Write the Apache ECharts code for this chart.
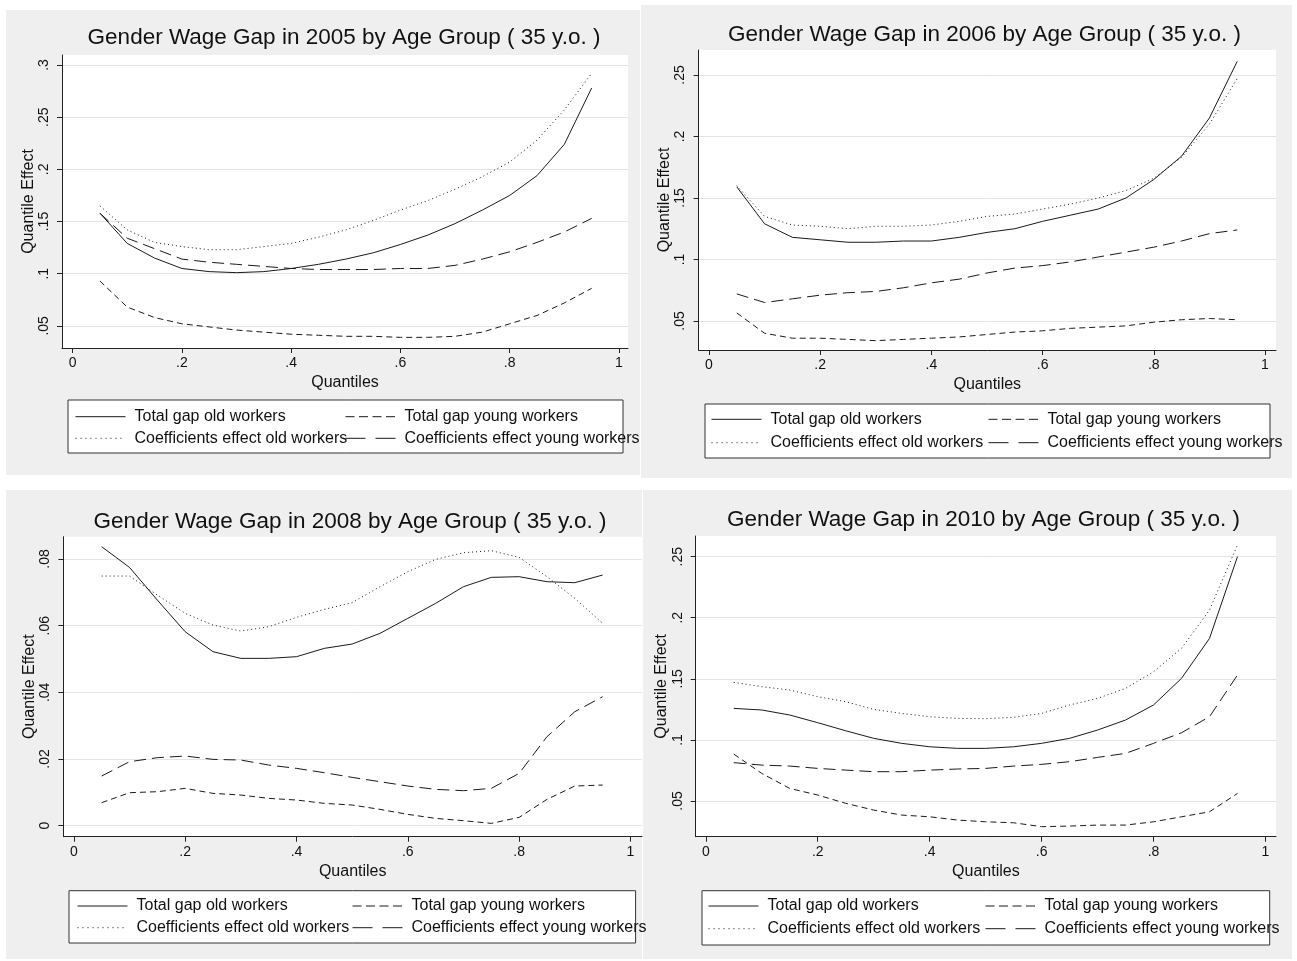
<!DOCTYPE html>
<html><head><meta charset="utf-8">
<script src="https://cdn.jsdelivr.net/npm/echarts/dist/echarts.min.js"></script>
<style>html,body{margin:0;padding:0;background:#fff}#c{width:1297px;height:961px}</style>
</head><body><div id="c"></div>
<script>
// ---------------- DATA ----------------
const quantiles = [0.05,0.10,0.15,0.20,0.25,0.30,0.35,0.40,0.45,0.50,0.55,0.60,0.65,0.70,0.75,0.80,0.85,0.90,0.95];
const seriesNames = ['Total gap old workers','Total gap young workers','Coefficients effect old workers','Coefficients effect young workers'];
const years = ['2005','2006','2008','2010'];
const xTickValues = [0,0.2,0.4,0.6,0.8,1];
const yTicks2005 = [0.05,0.1,0.15,0.2,0.25,0.3];
const yTicks2006 = [0.05,0.1,0.15,0.2,0.25];
const yTicks2008 = [0,0.02,0.04,0.06,0.08];
const yTicks2010 = [0.05,0.1,0.15,0.2,0.25];

const totalOld2005   = [.158,.129,.115,.105,.102,.101,.102,.105,.109,.114,.120,.128,.137,.148,.161,.175,.194,.224,.278];
const totalYoung2005 = [.093,.068,.058,.052,.049,.046,.044,.042,.041,.040,.040,.039,.039,.040,.044,.052,.060,.072,.086];
const coefOld2005    = [.165,.142,.130,.126,.123,.123,.126,.129,.135,.142,.151,.161,.170,.181,.193,.207,.228,.257,.292];
const coefYoung2005  = [.158,.134,.124,.114,.111,.109,.107,.105,.104,.104,.104,.105,.105,.108,.114,.121,.130,.140,.153];

const totalOld2006   = [.159,.129,.118,.116,.114,.114,.115,.115,.118,.122,.125,.131,.136,.141,.150,.165,.184,.215,.261];
const totalYoung2006 = [.0565,.040,.036,.036,.035,.034,.035,.036,.037,.039,.041,.042,.044,.045,.046,.049,.051,.052,.051];
const coefOld2006    = [.160,.135,.128,.127,.125,.127,.127,.128,.131,.135,.137,.141,.145,.150,.156,.166,.183,.210,.247];
const coefYoung2006  = [.072,.065,.068,.071,.073,.074,.077,.081,.084,.089,.093,.095,.098,.102,.106,.110,.115,.121,.124];

const totalOld2008   = [.0837,.0775,.0677,.0582,.0522,.0502,.0502,.0507,.0532,.0545,.0577,.0622,.0667,.0717,.0745,.0747,.0732,.0729,.0752];
const totalYoung2008 = [.0069,.0099,.0102,.0112,.0097,.0092,.0082,.0077,.0067,.0062,.0049,.0034,.0022,.0015,.0007,.0025,.0079,.0119,.0122];
const coefOld2008    = [.0749,.0749,.0692,.0637,.0602,.0584,.0597,.0625,.0649,.0669,.0717,.0762,.0799,.0819,.0825,.0805,.0747,.0682,.0607];
const coefYoung2008  = [.0149,.0192,.0204,.0209,.0199,.0197,.0182,.0172,.0159,.0145,.0132,.0119,.0109,.0105,.0112,.0157,.0267,.0342,.0387];

const totalOld2010   = [.1258,.1245,.1204,.1141,.1075,.1013,.0972,.0944,.0931,.0931,.0944,.0972,.1013,.1081,.1163,.1286,.1504,.1831,.2500];
const totalYoung2010 = [.0884,.0726,.0603,.0549,.0481,.0426,.0385,.0371,.0344,.0330,.0322,.0290,.0295,.0303,.0303,.0330,.0371,.0412,.0562];
const coefOld2010    = [.1471,.1436,.1408,.1354,.1313,.1250,.1217,.1190,.1176,.1174,.1185,.1217,.1286,.1340,.1422,.1558,.1750,.2063,.2596];
const coefYoung2010  = [.0814,.0794,.0786,.0767,.0753,.0740,.0740,.0753,.0762,.0767,.0786,.0800,.0822,.0857,.0890,.0972,.1059,.1190,.1531];

// ---------------- LAYOUT ----------------
const FONT = "'Liberation Sans', Arial, sans-serif";
const INK = '#111';
const panels = [
  { year: years[0], data: [totalOld2005, totalYoung2005, coefOld2005, coefYoung2005], yTicks: yTicks2005,
    grid: {left: 62, top: 55, width: 566, height: 293}, x: [-0.0194, 1.0165], y: [0.0288, 0.3096],
    title: {cx: 344, top: 26}, bg: [6, 10, 634, 465],
    box: [68, 400, 555, 53], cols: [75, 345], rows: [408.7, 430.3] },
  { year: years[1], data: [totalOld2006, totalYoung2006, coefOld2006, coefYoung2006], yTicks: yTicks2006,
    grid: {left: 698.6, top: 50, width: 577.4, height: 300}, x: [-0.0187, 1.0198], y: [0.0264, 0.2703],
    title: {cx: 984.5, top: 23}, bg: [641, 5, 651, 473],
    box: [705, 404, 565, 54], cols: [711, 988], rows: [411.3, 434.7] },
  { year: years[2], data: [totalOld2008, totalYoung2008, coefOld2008, coefYoung2008], yTicks: yTicks2008,
    grid: {left: 63.4, top: 536.7, width: 578.6, height: 300}, x: [-0.0187, 1.0207], y: [-0.0033, 0.0867],
    title: {cx: 350, top: 510}, bg: [6, 490, 636, 469],
    box: [69, 890.7, 566.6, 52.3], cols: [77, 352], rows: [898, 919.7] },
  { year: years[3], data: [totalOld2010, totalYoung2010, coefOld2010, coefYoung2010], yTicks: yTicks2010,
    grid: {left: 695.7, top: 536, width: 580.3, height: 300.7}, x: [-0.018, 1.0188], y: [0.0208, 0.2669],
    title: {cx: 983.5, top: 508}, bg: [643, 490, 649, 469],
    box: [702, 890.7, 567.7, 54.3], cols: [708, 985], rows: [898, 920.7] }
];
const lineTypes = ['solid', [6, 4], [1, 3], [12, 6]];
const legendLineTypes = ['solid', [9, 4.5], [1, 4], [20, 10]];
const legendPos = [[0, 0], [1, 0], [0, 1], [1, 1]]; // [col,row]

function fmt(v) {
  if (Math.abs(v) < 1e-9) return '0';
  if (Math.abs(v - 1) < 1e-9) return '1';
  return String(+v.toFixed(4)).replace(/^0\./, '.');
}

const option = {
  animation: false,
  backgroundColor: '#ffffff',
  title: [], grid: [], xAxis: [], yAxis: [], series: [], legend: [], graphic: []
};

panels.forEach((p, i) => {
  option.graphic.push({ type: 'rect', z: -10, silent: true,
    shape: {x: p.bg[0], y: p.bg[1], width: p.bg[2], height: p.bg[3]},
    style: {fill: '#efefef'} });
  option.graphic.push({ type: 'rect', z: 1, silent: true,
    shape: {x: p.box[0], y: p.box[1], width: p.box[2], height: p.box[3]},
    style: {fill: '#ffffff', stroke: '#333', lineWidth: 1} });
  option.title.push({ text: 'Gender Wage Gap in ' + p.year + ' by Age Group ( 35 y.o. )',
    left: p.title.cx, top: p.title.top, textAlign: 'center', padding: 0,
    textStyle: {fontFamily: FONT, fontSize: 22.5, fontWeight: 'normal', color: INK} });
  option.grid.push(Object.assign({ show: true, backgroundColor: '#ffffff', borderWidth: 0, containLabel: false }, p.grid));
  option.xAxis.push({ type: 'value', gridIndex: i, min: p.x[0], max: p.x[1],
    name: 'Quantiles', nameLocation: 'middle', nameGap: 27,
    nameTextStyle: {fontFamily: FONT, fontSize: 16, color: INK},
    axisLine: {show: true, onZero: false, lineStyle: {color: '#222', width: 1}},
    axisTick: {show: true, length: 5, customValues: xTickValues, lineStyle: {color: '#222'}},
    axisLabel: {customValues: xTickValues, formatter: fmt, margin: 8, fontFamily: FONT, fontSize: 14, color: INK},
    splitLine: {show: false} });
  option.yAxis.push({ type: 'value', gridIndex: i, min: p.y[0], max: p.y[1],
    name: 'Quantile Effect', nameLocation: 'middle', nameGap: 18, nameRotate: 90,
    nameTextStyle: {fontFamily: FONT, fontSize: 16, color: INK},
    axisLine: {show: true, onZero: false, lineStyle: {color: '#222', width: 1}},
    axisTick: {show: true, length: 5, customValues: p.yTicks, lineStyle: {color: '#222'}},
    axisLabel: {customValues: p.yTicks, formatter: fmt, rotate: 90, margin: 11, fontFamily: FONT, fontSize: 14, color: INK},
    splitLine: {show: true, lineStyle: {color: '#e4e4e4', width: 1}} });
  p.data.forEach((vals, k) => {
    option.series.push({ type: 'line', name: seriesNames[k], xAxisIndex: i, yAxisIndex: i,
      symbol: 'none', smooth: false,
      lineStyle: {color: '#1a1a1a', width: 1, type: lineTypes[k]},
      itemStyle: {color: '#1a1a1a'},
      data: quantiles.map((q, j) => [q, vals[j]]) });
    const [c, r] = legendPos[k];
    option.legend.push({ data: [seriesNames[k]], left: p.cols[c], top: p.rows[r], padding: 0,
      orient: 'horizontal', itemWidth: 50, itemHeight: 14, selectedMode: false, z: 5,
      itemStyle: {color: 'rgba(0,0,0,0)', borderColor: 'rgba(0,0,0,0)', borderWidth: 0, opacity: 0},
      lineStyle: {color: '#1a1a1a', width: 1, type: legendLineTypes[k]},
      textStyle: {fontFamily: FONT, fontSize: 16, color: INK, padding: [0, 0, 0, 4]} });
  });
});

const chart = echarts.init(document.getElementById('c'), null, {renderer: 'canvas'});
chart.setOption(option);
</script></body></html>
